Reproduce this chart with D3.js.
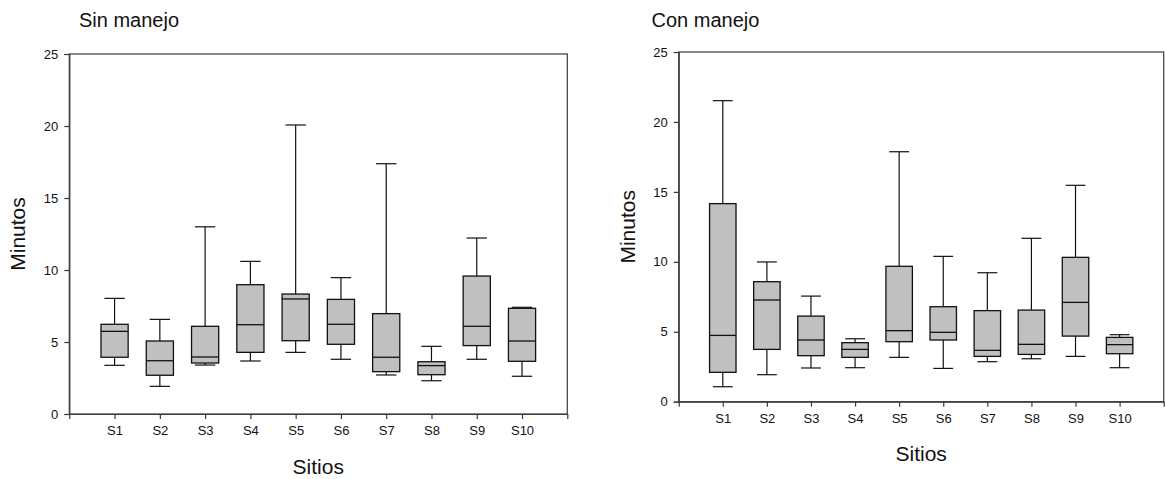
<!DOCTYPE html>
<html>
<head>
<meta charset="utf-8">
<script src="https://cdn.jsdelivr.net/npm/d3@7"></script>
<style>
  html, body { margin: 0; padding: 0; background: #fff; }
  svg { display: block; font-family: "Liberation Sans", Arial, sans-serif; }
</style>
</head>
<body>
<svg id="chart" width="1165" height="479"></svg>
<script>
// Sites sampled
const sites = ["S1", "S2", "S3", "S4", "S5", "S6", "S7", "S8", "S9", "S10"];
const yTicks = [0, 5, 10, 15, 20, 25];

// Sin manejo: whisker ends, quartiles and median (minutes)
const sinLow    = [3.38, 1.92, 3.40, 3.68, 4.28, 3.80, 2.71, 2.31, 3.80, 2.62];
const sinQ1     = [3.94, 2.69, 3.54, 4.28, 5.09, 4.84, 2.94, 2.73, 4.75, 3.66];
const sinMedian = [5.74, 3.70, 3.96, 6.20, 7.99, 6.23, 3.94, 3.36, 6.09, 5.07];
const sinQ3     = [6.23, 5.07, 6.09, 8.98, 8.33, 7.96, 6.97, 3.63, 9.58, 7.34];
const sinHigh   = [8.03, 6.57, 13.0, 10.6, 20.07, 9.47, 17.38, 4.70, 12.22, 7.41];

// Con manejo: whisker ends, quartiles and median (minutes)
const conLow    = [1.07, 1.93, 2.41, 2.43, 3.17, 2.38, 2.86, 3.07, 3.24, 2.43];
const conQ1     = [2.10, 3.74, 3.29, 3.17, 4.29, 4.41, 3.24, 3.38, 4.69, 3.43];
const conMedian = [4.74, 7.27, 4.41, 3.74, 5.08, 4.96, 3.67, 4.10, 7.10, 4.08];
const conQ3     = [14.16, 8.58, 6.12, 4.22, 9.68, 6.79, 6.51, 6.55, 10.32, 4.60];
const conHigh   = [21.52, 9.99, 7.55, 4.50, 17.87, 10.39, 9.22, 11.68, 15.47, 4.79];

const svg = d3.select("#chart");

function drawPanel(opts) {
  const { title, left, right, top, bottom, titleX, low, q1, median, q3, high,
          yTitleX, xTitleY } = opts;

  const x = d3.scalePoint().domain(sites).range([left, right]).padding(1);
  const y = d3.scaleLinear().domain([0, 25]).range([bottom, top]);
  const g = svg.append("g");

  const rows = sites.map((s, i) => ({
    site: s, low: low[i], q1: q1[i], median: median[i], q3: q3[i], high: high[i]
  }));

  const boxW = x.step() * 0.6;
  const capW = x.step() * 0.45;

  // frame
  g.append("rect")
    .attr("x", left).attr("y", top)
    .attr("width", right - left).attr("height", bottom - top)
    .attr("fill", "none").attr("stroke", "#3a3a3a").attr("stroke-width", 1.2);

  // axes
  const yAxis = d3.axisLeft(y).tickValues(yTicks).tickSize(5).tickPadding(6);
  const ga = g.append("g").attr("transform", `translate(${left},0)`).call(yAxis);
  ga.select(".domain").attr("stroke", "#3a3a3a").attr("stroke-width", 1.2);
  ga.selectAll(".tick line").attr("stroke", "#3a3a3a").attr("stroke-width", 1.2);
  ga.selectAll("text").attr("font-size", 13).attr("fill", "#111")
    .attr("font-family", "Liberation Sans, Arial, sans-serif");

  const xAxis = d3.axisBottom(x).tickSize(5).tickPadding(7);
  const gx = g.append("g").attr("transform", `translate(0,${bottom})`).call(xAxis);
  gx.select(".domain").attr("stroke", "#3a3a3a").attr("stroke-width", 1.2);
  gx.selectAll(".tick line").attr("stroke", "#3a3a3a").attr("stroke-width", 1.2);
  gx.selectAll("text").attr("font-size", 13).attr("fill", "#111")
    .attr("font-family", "Liberation Sans, Arial, sans-serif");

  const box = g.selectAll(".box").data(rows).join("g").attr("class", "box");

  // whiskers
  box.append("line")
    .attr("x1", d => x(d.site)).attr("x2", d => x(d.site))
    .attr("y1", d => y(d.q3)).attr("y2", d => y(d.high))
    .attr("stroke", "#111").attr("stroke-width", 1.2);
  box.append("line")
    .attr("x1", d => x(d.site)).attr("x2", d => x(d.site))
    .attr("y1", d => y(d.q1)).attr("y2", d => y(d.low))
    .attr("stroke", "#111").attr("stroke-width", 1.2);
  // caps
  box.append("line")
    .attr("x1", d => x(d.site) - capW / 2).attr("x2", d => x(d.site) + capW / 2)
    .attr("y1", d => y(d.high)).attr("y2", d => y(d.high))
    .attr("stroke", "#111").attr("stroke-width", 1.2);
  box.append("line")
    .attr("x1", d => x(d.site) - capW / 2).attr("x2", d => x(d.site) + capW / 2)
    .attr("y1", d => y(d.low)).attr("y2", d => y(d.low))
    .attr("stroke", "#111").attr("stroke-width", 1.2);
  // boxes
  box.append("rect")
    .attr("x", d => x(d.site) - boxW / 2)
    .attr("y", d => y(d.q3))
    .attr("width", boxW)
    .attr("height", d => y(d.q1) - y(d.q3))
    .attr("fill", "#c0c0c0").attr("stroke", "#111").attr("stroke-width", 1.3);
  // medians
  box.append("line")
    .attr("x1", d => x(d.site) - boxW / 2).attr("x2", d => x(d.site) + boxW / 2)
    .attr("y1", d => y(d.median)).attr("y2", d => y(d.median))
    .attr("stroke", "#111").attr("stroke-width", 1.3);

  // titles
  g.append("text")
    .attr("x", titleX).attr("y", 27)
    .attr("font-size", 20).attr("fill", "#111")
    .text(title);

  g.append("text")
    .attr("transform", `translate(${yTitleX},${(top + bottom) / 2}) rotate(-90)`)
    .attr("text-anchor", "middle")
    .attr("font-size", 21).attr("fill", "#111")
    .text("Minutos");

  g.append("text")
    .attr("x", (left + right) / 2).attr("y", xTitleY)
    .attr("text-anchor", "middle")
    .attr("font-size", 21).attr("fill", "#111")
    .text("Sitios");
}

drawPanel({
  title: "Sin manejo", titleX: 79,
  left: 69.3, right: 567.3, top: 54, bottom: 414,
  yTitleX: 25, xTitleY: 474,
  low: sinLow, q1: sinQ1, median: sinMedian, q3: sinQ3, high: sinHigh
});

drawPanel({
  title: "Con manejo", titleX: 651.5,
  left: 678.7, right: 1163.7, top: 52, bottom: 401.7,
  yTitleX: 635, xTitleY: 461,
  low: conLow, q1: conQ1, median: conMedian, q3: conQ3, high: conHigh
});
</script>
</body>
</html>
